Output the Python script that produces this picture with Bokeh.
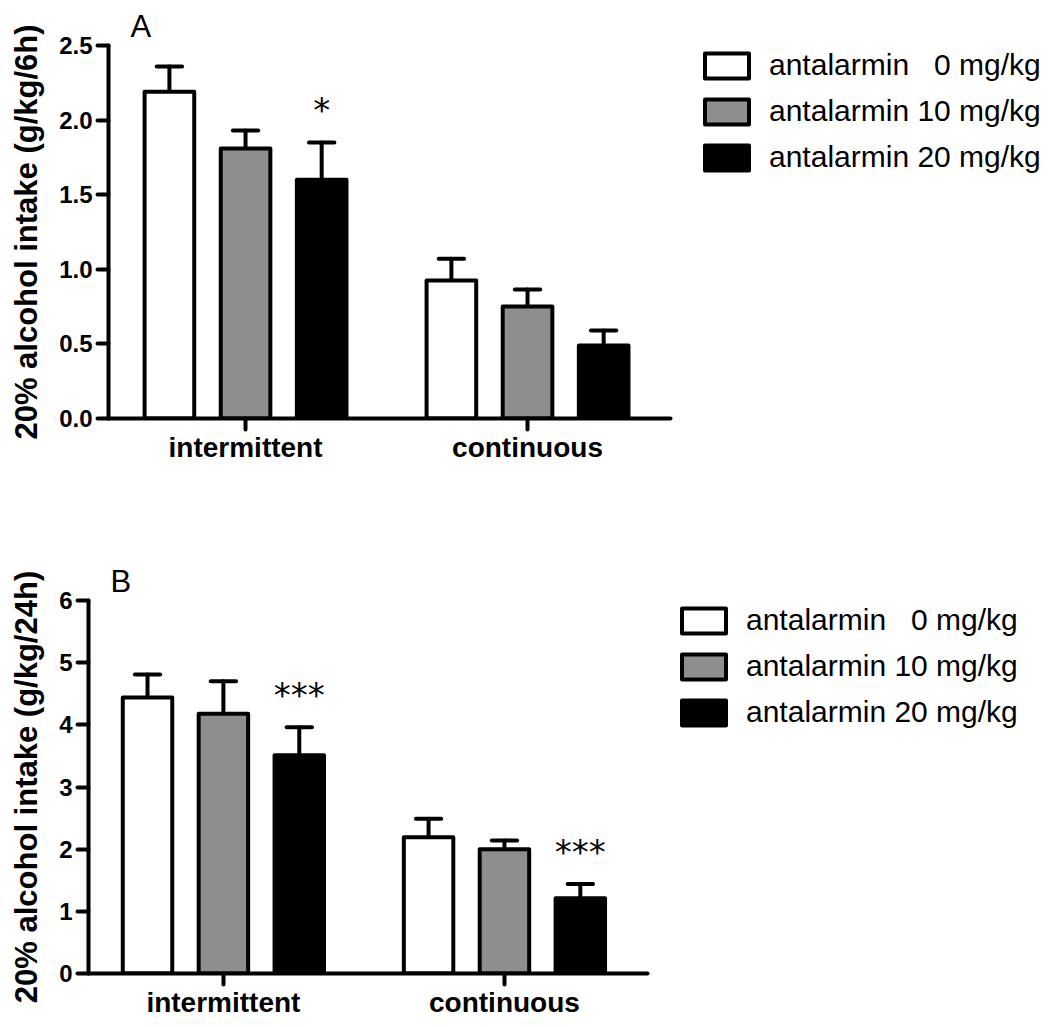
from bokeh.plotting import figure
from bokeh.models import Range1d, FixedTicker, Legend, LegendItem, Title, ColumnDataSource
from bokeh.layouts import column
from bokeh.embed import file_html
from bokeh.resources import INLINE
from bokeh.core.properties import value

# ---------------- data ----------------
groups = ["intermittent", "continuous"]
dose_labels = ["antalarmin\u00a0\u00a0\u00a00 mg/kg", "antalarmin 10 mg/kg", "antalarmin 20 mg/kg"]
dose_colors = ["#ffffff", "#8e8e8e", "#000000"]

# Panel A (g/kg/6h)
A_mean_inter = [2.19, 1.81, 1.60]
A_sem_inter = [0.17, 0.12, 0.25]
A_mean_cont = [0.925, 0.75, 0.49]
A_sem_cont = [0.145, 0.115, 0.10]
A_sig_inter = ["", "", "*"]
A_sig_cont = ["", "", ""]
A_ticks = [0, 0.5, 1.0, 1.5, 2.0, 2.5]
A_tick_labels = ["0.0", "0.5", "1.0", "1.5", "2.0", "2.5"]
A_ylabel = "20% alcohol intake (g/kg/6h)"

# Panel B (g/kg/24h)
B_mean_inter = [4.44, 4.18, 3.51]
B_sem_inter = [0.37, 0.52, 0.45]
B_mean_cont = [2.19, 2.00, 1.21]
B_sem_cont = [0.30, 0.14, 0.23]
B_sig_inter = ["", "", "***"]
B_sig_cont = ["", "", "***"]
B_ticks = [0, 1, 2, 3, 4, 5, 6]
B_tick_labels = ["0", "1", "2", "3", "4", "5", "6"]
B_ylabel = "20% alcohol intake (g/kg/24h)"

FONT = "Liberation Sans"
BAR_OFFSET = 0.27
BAR_W = 0.176
CAP_HALF = 0.045


def make_panel(letter, means_by_group, sems_by_group, sigs_by_group, ticks, tick_labels,
               ylabel, ymax, xr, frame_w, border_left, border_top, border_bottom, border_right,
               margin):
    p = figure(frame_width=frame_w, frame_height=373, x_range=Range1d(*xr),
               y_range=Range1d(0, ymax), output_backend="svg", toolbar_location=None,
               min_border_left=border_left, min_border_top=border_top,
               min_border_bottom=border_bottom, min_border_right=border_right,
               margin=margin)
    p.outline_line_color = None
    p.grid.visible = False
    p.background_fill_color = "white"
    p.border_fill_color = "white"

    renderers = []
    for d in range(3):
        xs = [g + (d - 1) * BAR_OFFSET for g in range(len(groups))]
        tops = [means_by_group[g][d] for g in range(len(groups))]
        uppers = [means_by_group[g][d] + sems_by_group[g][d] for g in range(len(groups))]
        sigs = [sigs_by_group[g][d] for g in range(len(groups))]
        src = ColumnDataSource(dict(x=xs, top=tops, upper=uppers, sig=sigs,
                                    cl=[x - CAP_HALF for x in xs], cr=[x + CAP_HALF for x in xs]))
        # error stems and caps (upper only)
        p.segment(x0="x", y0="top", x1="x", y1="upper", source=src, line_color="black",
                  line_width=4, line_cap="round")
        p.segment(x0="cl", y0="upper", x1="cr", y1="upper", source=src, line_color="black",
                  line_width=4, line_cap="round")
        r = p.vbar(x="x", top="top", bottom=0, width=BAR_W, source=src,
                   fill_color=dose_colors[d], line_color="black", line_width=4,
                   line_join="round")
        renderers.append(r)
        p.text(x="x", y="upper", text="sig", source=src, text_align="center",
               text_baseline="alphabetic", y_offset=-32, text_font=value("DejaVu Sans"),
               text_font_size="34px", text_color="black")

    # axes
    for ax in (p.xaxis[0], p.yaxis[0]):
        ax.axis_line_width = 4
        ax.axis_line_cap = "round"
        ax.major_tick_line_width = 4
        ax.major_tick_line_cap = "round"
        ax.major_tick_out = 11
        ax.major_tick_in = 0
        ax.minor_tick_line_color = None
        ax.major_label_text_font = FONT
        ax.major_label_text_font_style = "bold"
        ax.major_label_text_color = "black"
    p.yaxis.ticker = FixedTicker(ticks=ticks)
    p.yaxis.major_label_overrides = {t: l for t, l in zip(ticks, tick_labels)}
    p.yaxis.major_label_text_font_size = "24px"
    p.yaxis.major_label_standoff = 5
    p.yaxis.axis_label = ylabel
    p.yaxis.axis_label_text_font = FONT
    p.yaxis.axis_label_text_font_style = "bold"
    p.yaxis.axis_label_text_font_size = "31px"
    p.yaxis.axis_label_text_color = "black"
    p.yaxis.axis_label_standoff = 12

    p.xaxis.ticker = FixedTicker(ticks=list(range(len(groups))))
    p.xaxis.major_label_overrides = {i: g for i, g in enumerate(groups)}
    p.xaxis.major_label_text_font_size = "28px"
    p.xaxis.major_label_standoff = 2

    t = Title(text=letter, align="left", offset=22, standoff=4,
              text_font=FONT, text_font_style="normal", text_font_size="31px",
              text_color="black")
    p.add_layout(t, "above")

    items = [LegendItem(label=dose_labels[d], renderers=[renderers[d]]) for d in range(3)]
    leg = Legend(items=items, location=(29, 244), orientation="vertical",
                 glyph_width=55, glyph_height=31, label_height=31, spacing=12,
                 label_standoff=15, padding=0, margin=0,
                 label_text_font=FONT, label_text_font_size="30px",
                 label_text_color="black", border_line_color=None,
                 background_fill_alpha=0)
    p.add_layout(leg, "right")
    return p


pA = make_panel("A", [A_mean_inter, A_mean_cont], [A_sem_inter, A_sem_cont],
                [A_sig_inter, A_sig_cont], A_ticks, A_tick_labels, A_ylabel, 2.5,
                (-0.486, 1.507), 562, 108, 45, 60, 372, (0, 0, 0, 0))
pB = make_panel("B", [B_mean_inter, B_mean_cont], [B_sem_inter, B_sem_cont],
                [B_sig_inter, B_sig_cont], B_ticks, B_tick_labels, B_ylabel, 6,
                (-0.480, 1.509), 559, 108, 122, 45, 395, (0, 0, 0, -20))

layout = column(pA, pB, spacing=0)
open("out.html", "w").write(file_html(layout, INLINE))
